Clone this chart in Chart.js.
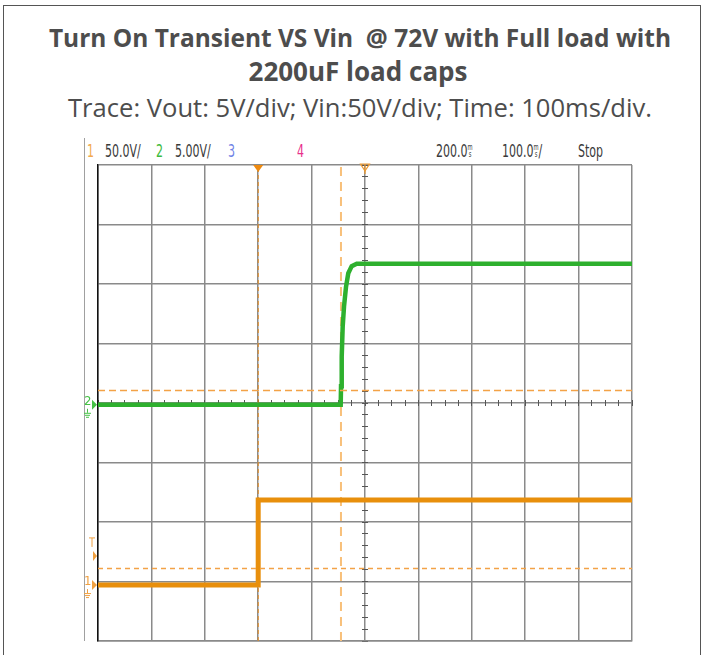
<!DOCTYPE html>
<html>
<head>
<meta charset="utf-8">
<script src="https://cdn.jsdelivr.net/npm/chart.js@4.4.1/dist/chart.umd.min.js"></script>
<style>
  body{margin:0;background:#fff;width:704px;height:655px;overflow:hidden;position:relative;font-family:"Open Sans",sans-serif}
  #frame{position:absolute;left:3px;top:5px;width:696px;height:700px;border:1px solid #555}
  .tl{position:absolute;left:10px;width:700px;text-align:center;color:#4d4d4d;white-space:nowrap}
  .tl span{display:inline-block}
  #t1{top:23px;font-weight:bold;font-size:22px;line-height:30px}
  #t2{top:56px;font-weight:bold;font-size:22px;line-height:30px}
  #sub{top:92px;font-size:21px;line-height:30px}
  #screen{position:absolute;left:84px;top:138px;width:548px;height:503px;border-left:1px solid #a0a0a0}
  .hd{position:absolute;top:142px;font-family:"DejaVu Sans Condensed","DejaVu Sans",sans-serif;font-size:17px;line-height:18px;color:#3a3a3a;white-space:nowrap;transform:scaleX(0.72);transform-origin:0 0}
  .ms{display:inline-block;font-size:8px;line-height:7px;vertical-align:top;text-align:center;margin-top:2px}
  #wrap{position:absolute;left:80px;top:160px}
</style>
</head>
<body>
<div id="frame"></div>
<div class="tl" id="t1"><span data-w="622">Turn On Transient VS Vin&nbsp; @ 72V with Full load with</span></div>
<div class="tl" id="t2" style="left:8px"><span data-w="219">2200uF load caps</span></div>
<div class="tl" id="sub"><span data-w="584">Trace: Vout: 5V/div; Vin:50V/div; Time: 100ms/div.</span></div>
<div id="screen"></div>
<span class="hd" style="left:87px;color:#f2a94e">1</span>
<span class="hd" style="left:105px">50.0V/</span>
<span class="hd" style="left:156px;color:#3dbb3d">2</span>
<span class="hd" style="left:175px">5.00V/</span>
<span class="hd" style="left:228px;color:#6f82e6">3</span>
<span class="hd" style="left:297px;color:#e8308a">4</span>
<span class="hd" style="left:436px">200.0<span class="ms">m<br>s</span></span>
<span class="hd" style="left:502px">100.0<span class="ms">m<br>s</span>/</span>
<span class="hd" style="left:578px">Stop</span>
<div id="wrap"><canvas id="scope" width="560" height="490"></canvas></div>
<script>
// screen: 10 x 8 divisions, 100 ms/div
const timeMsPerDiv = 100;
const vinVoltsPerDiv = 50;
const voutVoltsPerDiv = 5;
const vinGroundDiv = -3.06;
const voutGroundDiv = -0.03;

// ch1 Vin
const vinTimeMs = [0, 300, 300, 1000];
const vinVolts = [0, 0, 71.5, 71.5];

// ch2 Vout
const voutTimeMs = [0, 454.5, 455.1, 456.4, 458.2, 460.7, 464.4, 468.7, 475.1, 484.5, 1000];
const voutVolts = [0, 0, 1.55, 4.05, 6.55, 8.25, 9.9, 11.05, 11.65, 11.85, 11.85];

// cursors
const cursorTimesMs = [300, 455];
const cursorLevelsDiv = [0.21, -2.78];
const triggerLevelVolts = 24.5;
const triggerTimeMs = 500;

// size title lines to the widths they have in the picture
document.querySelectorAll('.tl span').forEach(el => {
  const target = +el.dataset.w;
  const w = el.getBoundingClientRect().width;
  const fs = parseFloat(getComputedStyle(el).fontSize);
  el.style.fontSize = (fs * target / w).toFixed(2) + 'px';
});

function pts(xs, ys){ return xs.map((x, i) => ({x: x, y: ys[i]})); }

function trace(xs, ys, color, width, axis){
  return { data: pts(xs, ys), borderColor: color, borderWidth: width, yAxisID: axis,
           pointRadius: 0, tension: 0, fill: false };
}

function vLine(t, color, width, dash){
  return { data: [{x: t, y: -4}, {x: t, y: 4}], borderColor: color, borderWidth: width,
           borderDash: dash, yAxisID: 'y', pointRadius: 0, fill: false };
}

function hLine(level, color, width, dash){
  return { data: [{x: 0, y: level}, {x: 10 * timeMsPerDiv, y: level}], borderColor: color,
           borderWidth: width, borderDash: dash, yAxisID: 'y', pointRadius: 0, fill: false };
}

function minorAxis(axis, pos, min, max, step, len){
  return { type: 'linear', axis: axis, position: pos, min: min, max: max,
           ticks: { display: false, stepSize: step, maxTicksLimit: 1000, autoSkip: false },
           grid: { drawOnChartArea: false, drawTicks: true, tickLength: len, color: '#555', lineWidth: 1 },
           border: { display: false } };
}

function chanMarker(ctx, x, y, label, color){
  ctx.fillStyle = color; ctx.strokeStyle = color; ctx.lineWidth = 1;
  ctx.font = '13px "DejaVu Sans Condensed", sans-serif';
  ctx.textBaseline = 'middle'; ctx.textAlign = 'left';
  ctx.fillText(label, x - 14, y - 3);
  ctx.beginPath(); ctx.moveTo(x - 6, y - 5); ctx.lineTo(x - 1, y); ctx.lineTo(x - 6, y + 5); ctx.closePath(); ctx.fill();
  ctx.beginPath();
  ctx.moveTo(x - 10.5, y + 4); ctx.lineTo(x - 10.5, y + 8);
  ctx.moveTo(x - 14, y + 8.5); ctx.lineTo(x - 7, y + 8.5);
  ctx.moveTo(x - 13, y + 10.5); ctx.lineTo(x - 8, y + 10.5);
  ctx.moveTo(x - 12, y + 12.5); ctx.lineTo(x - 9, y + 12.5);
  ctx.stroke();
}

const markerPlugin = {
  id: 'markers',
  afterDraw(chart){
    const {ctx, chartArea, scales} = chart;
    const left = chartArea.left, top = chartArea.top;
    ctx.save();
    chanMarker(ctx, left, scales.yVout.getPixelForValue(0), '2', '#45c245');
    chanMarker(ctx, left, scales.yVin.getPixelForValue(0), '1', '#f0a040');
    // trigger level
    const ty = scales.yVin.getPixelForValue(triggerLevelVolts);
    ctx.fillStyle = '#f0a040'; ctx.strokeStyle = '#f0a040'; ctx.lineWidth = 1;
    ctx.beginPath(); ctx.moveTo(left - 5, ty - 5); ctx.lineTo(left - 1, ty); ctx.lineTo(left - 5, ty + 5); ctx.closePath(); ctx.fill();
    ctx.beginPath();
    ctx.moveTo(left - 9, ty - 18); ctx.lineTo(left - 3, ty - 18);
    ctx.moveTo(left - 6, ty - 18); ctx.lineTo(left - 6, ty - 9);
    ctx.stroke();
    // cursor marker at top
    const cx = scales.x.getPixelForValue(cursorTimesMs[0]);
    ctx.fillStyle = '#ee8a10';
    ctx.beginPath(); ctx.moveTo(cx - 5, top); ctx.lineTo(cx + 5, top); ctx.lineTo(cx, top + 7); ctx.closePath(); ctx.fill();
    // trigger position marker
    const tx = scales.x.getPixelForValue(triggerTimeMs);
    ctx.strokeStyle = '#ee9a30'; ctx.lineWidth = 1.2;
    ctx.beginPath(); ctx.moveTo(tx - 4.5, top - 1); ctx.lineTo(tx + 4.5, top - 1); ctx.lineTo(tx, top + 6); ctx.closePath(); ctx.stroke();
    ctx.beginPath(); ctx.moveTo(tx, top - 1); ctx.lineTo(tx, top + 9); ctx.stroke();
    ctx.restore();
  }
};

const gridColor = '#8a8a8a';

new Chart(document.getElementById('scope').getContext('2d'), {
  type: 'line',
  data: {
    datasets: [
      hLine(cursorLevelsDiv[0], '#f3a247', 1.5, [7, 4]),
      hLine(cursorLevelsDiv[1], '#f3a247', 1.5, [5, 4]),
      trace(vinTimeMs, vinVolts, '#e88f0c', 5, 'yVin'),
      trace(vinTimeMs, vinVolts, 'rgba(80,45,0,0.85)', 1.2, 'yVin'),
      trace(voutTimeMs, voutVolts, '#2eb02e', 4.5, 'yVout'),
      trace(voutTimeMs, voutVolts, 'rgba(15,85,15,0.8)', 1.2, 'yVout'),
      vLine(cursorTimesMs[0], '#e98a1a', 1, [4, 3]),
      vLine(cursorTimesMs[1], '#f8c07a', 2, [9, 6])
    ]
  },
  options: {
    responsive: false,
    animation: false,
    layout: { padding: { left: 18, right: 8, top: 5, bottom: 9 } },
    plugins: { legend: { display: false }, tooltip: { enabled: false } },
    scales: {
      x: { type: 'linear', min: 0, max: 10 * timeMsPerDiv,
           ticks: { display: false, stepSize: timeMsPerDiv },
           grid: { color: gridColor, lineWidth: 1.5, drawTicks: false },
           border: { color: gridColor, width: 1.5 } },
      y: { type: 'linear', min: -4, max: 4,
           ticks: { display: false, stepSize: 1 },
           grid: { color: gridColor, lineWidth: 1.5, drawTicks: false },
           border: { color: '#111', width: 1.5 } },
      yVin: { type: 'linear', display: false,
              min: (-4 - vinGroundDiv) * vinVoltsPerDiv, max: (4 - vinGroundDiv) * vinVoltsPerDiv },
      yVout: { type: 'linear', display: false,
               min: (-4 - voutGroundDiv) * voutVoltsPerDiv, max: (4 - voutGroundDiv) * voutVoltsPerDiv },
      xMinA: minorAxis('x', {y: 0}, 0, 10 * timeMsPerDiv, timeMsPerDiv / 4, 3),
      xMinB: minorAxis('x', {y: 0}, 0, 10 * timeMsPerDiv, timeMsPerDiv / 4, -3),
      yMinA: minorAxis('y', {x: triggerTimeMs}, -4, 4, 0.2, 3),
      yMinB: minorAxis('y', {x: triggerTimeMs}, -4, 4, 0.2, -3)
    }
  },
  plugins: [markerPlugin]
});
</script>
</body>
</html>
